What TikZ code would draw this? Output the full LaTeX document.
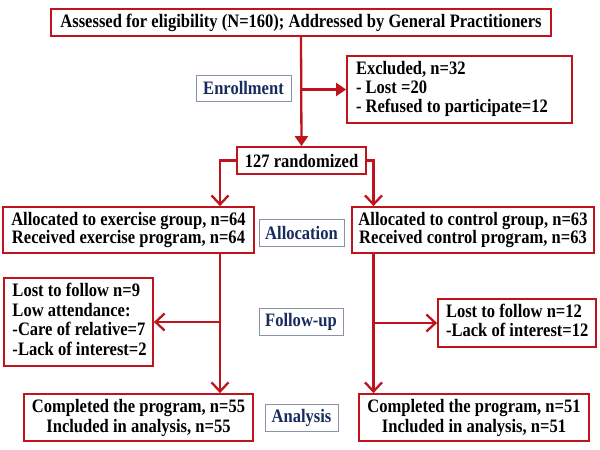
\documentclass[tikz,border=0pt]{standalone}
\usepackage{fontspec}
\setmainfont[FakeStretch=0.87]{Liberation Serif}
\usetikzlibrary{arrows.meta,calc}
\definecolor{cred}{RGB}{192,20,28}
\definecolor{cgray}{RGB}{135,148,168}
\definecolor{cnavy}{RGB}{23,43,94}
\newcommand\boxfont[1]{\bfseries\fontsize{19}{#1}\selectfont\spaceskip=4.2pt\relax}
\newcommand\leftlines[2]{\makebox[#1][l]{\begin{tabular}{@{}l@{}}#2\end{tabular}}}
\tikzset{
  redbox/.style={draw=cred,line width=1.8pt,fill=white,inner sep=0pt,
    font=\boxfont{18.5},align=center},
  leftbox/.style={draw=cred,line width=1.8pt,fill=white,inner sep=0pt},
  lblbox/.style={draw=cgray,line width=0.9pt,fill=white,inner sep=0pt,
    text=cnavy,font=\boxfont{19}},
  conn/.style={draw=cred,line width=2.3pt},
  tri/.style={conn,-{Triangle[length=10pt,width=13pt]}},
  barb/.style={conn,-{Straight Barb[length=9pt,width=17pt,line width=2.3pt]}}
}
\begin{document}
\begin{tikzpicture}[x=1pt,y=-1pt]
\useasboundingbox (0,0) rectangle (600,450);
\node[redbox,minimum width=500pt,minimum height=27pt] (top) at (301,22.5)
  {Assessed for eligibility (N=160); Addressed by General Practitioners};
\node[lblbox,minimum width=95pt,minimum height=26pt] (enr) at (243.5,88) {Enrollment};
\node[leftbox,minimum width=225pt,minimum height=67pt,font=\boxfont{19}] (excl) at (459.5,89.5)
  {\leftlines{207pt}{Excluded, n=32\\- Lost =20\\- Refused to participate=12}};
\node[redbox,minimum width=129pt,minimum height=27pt] (rand) at (301.5,160.5) {127 randomized};
\node[redbox,minimum width=251pt,minimum height=46pt] (allocL) at (128.5,230)
  {Allocated to exercise group, n=64\\Received exercise program, n=64};
\node[lblbox,minimum width=85pt,minimum height=27pt] (alloc) at (301.5,232.5) {Allocation};
\node[redbox,minimum width=242pt,minimum height=46pt] (allocR) at (473,230)
  {Allocated to control group, n=63\\Received control program, n=63};
\node[leftbox,minimum width=149pt,minimum height=88pt,font=\boxfont{19.6}] (lostL) at (78.5,322)
  {\leftlines{132pt}{Lost to follow n=9\\Low attendance:\\-Care of relative=7\\-Lack of interest=2}};
\node[lblbox,minimum width=84pt,minimum height=27pt] (fol) at (301,321.5) {Follow-up};
\node[leftbox,minimum width=158pt,minimum height=48pt,font=\boxfont{19.6}] (lostR) at (517,323)
  {\leftlines{142pt}{Lost to follow n=12\\-Lack of interest=12}};
\node[redbox,minimum width=229pt,minimum height=47pt,font=\boxfont{20}] (anaL) at (138.5,417.5)
  {Completed the program, n=55\\Included in analysis, n=55};
\node[lblbox,minimum width=73pt,minimum height=27pt] (ana) at (301.5,417.5) {Analysis};
\node[redbox,minimum width=230pt,minimum height=47pt,font=\boxfont{20}] (anaR) at (474,417.5)
  {Completed the program, n=51\\Included in analysis, n=51};
\coordinate (lx) at (220,0);
\coordinate (rx) at (373.5,0);
\draw[tri] (top.south) -- (rand.north);
\draw[tri] (top.south |- excl.west) -- (excl.west);
\draw[barb] (rand.west) -| (allocL.north -| lx);
\draw[barb] (rand.east) -| (allocR.north -| rx);
\draw[barb] (allocL.south -| lx) -- (anaL.north -| lx);
\draw[barb] (allocR.south -| rx) -- (anaR.north -| rx);
\draw[barb] (lostL.east -| lx) -- (lostL.east);
\draw[barb] (lostR.west -| rx) -- (lostR.west);
\end{tikzpicture}
\end{document}
